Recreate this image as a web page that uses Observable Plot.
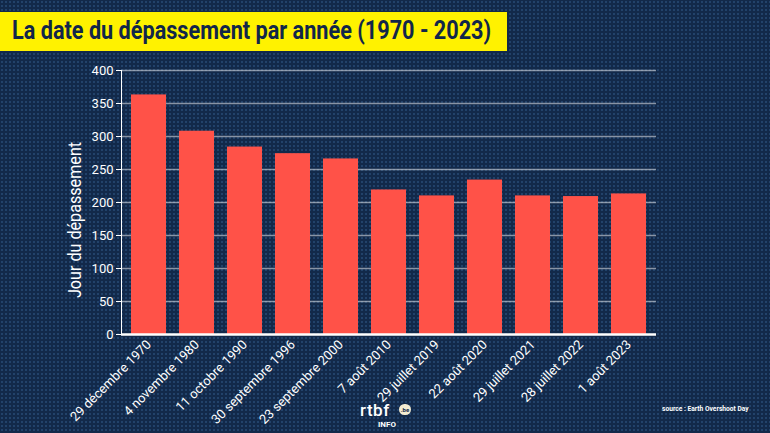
<!DOCTYPE html>
<html><head><meta charset="utf-8">
<script src="https://cdn.jsdelivr.net/npm/d3@7"></script>
<script src="https://cdn.jsdelivr.net/npm/@observablehq/plot@0.6"></script>
<style>
html,body{margin:0;padding:0;}
#wrap{position:relative;width:770px;height:433px;overflow:hidden;
 background-color:#12294a;
 background-image:radial-gradient(circle, #22426a 0.9px, transparent 1.3px);
 background-size:4px 4px;font-family:Roboto, sans-serif;}
#title{position:absolute;left:0;top:12px;width:507px;height:39px;background:#fff200;}
#title span{position:absolute;left:12px;top:3px;font:700 26px/30px Roboto, sans-serif;color:#11264a;white-space:nowrap;transform:scaleX(0.833);transform-origin:0 0;}
#ylab{position:absolute;left:75px;top:220px;transform:translate(-50%,-50%) rotate(-90deg) scaleX(0.85);color:#fff;font:400 19px/22px Roboto, sans-serif;white-space:nowrap;}
#plot{position:absolute;left:0;top:0;}
#src{position:absolute;left:662px;top:404px;color:#fff;font:700 8px/10px Roboto, sans-serif;transform:scaleX(0.83);transform-origin:0 0;white-space:nowrap;}
#logo{position:absolute;left:360px;top:403px;width:55px;height:28px;color:#fff;}
#logo .r{position:absolute;left:0;top:0;font:500 17px/15px Roboto, sans-serif;letter-spacing:0.5px;}
#logo .be{position:absolute;left:39px;top:1px;width:12px;height:11px;border-radius:6px;background:#f3ecd2;color:#12294a;font:700 6px/11px Roboto,sans-serif;text-align:center;}
#logo .info{position:absolute;left:18px;top:17px;font:700 8px/9px Roboto, sans-serif;}
</style></head>
<body>
<div id="wrap">
 <div id="plot"></div>
 <div id="title"><span>La date du dépassement par année (1970 - 2023)</span></div>
 <div id="ylab">Jour du dépassement</div>
 <div id="src">source : Earth Overshoot Day</div>
 <div id="logo"><span class="r">rtbf</span><span class="be">.be</span><span class="info">INFO</span></div>
</div>
<script>
const dates = ["29 décembre 1970","4 novembre 1980","11 octobre 1990","30 septembre 1996","23 septembre 2000","7 août 2010","29 juillet 2019","22 août 2020","29 juillet 2021","28 juillet 2022","1 août 2023"];
const days = [363, 308, 284, 274, 266, 219, 210, 234, 210, 209, 213];
const yTicks = [0, 50, 100, 150, 200, 250, 300, 350, 400];

const data = dates.map((d, i) => ({date: d, day: days[i]}));

const chart = Plot.plot({
  width: 770,
  height: 433,
  marginLeft: 121,
  marginRight: 114,
  marginTop: 70,
  marginBottom: 99,
  style: {background: "transparent", color: "#fff", fontFamily: "Roboto, sans-serif", fontSize: "13px"},
  x: {domain: dates, paddingInner: 0.27, paddingOuter: 0.13, label: null, tickSize: 0, tickRotate: -45, tickPadding: 8},
  y: {domain: [0, 400], ticks: yTicks, label: null, tickSize: 5, tickPadding: 3, line: true},
  marks: [
    Plot.gridY(yTicks.filter(t => t > 0), {stroke: "#ffffff", strokeOpacity: 0.5, strokeWidth: 1.5}),
    Plot.barY(data, {x: "date", y: "day", fill: "#ff5248"}),
    Plot.ruleY([0], {stroke: "#fff", strokeWidth: 2.5})
  ]
});
document.getElementById("plot").appendChild(chart);
</script>
</body></html>
